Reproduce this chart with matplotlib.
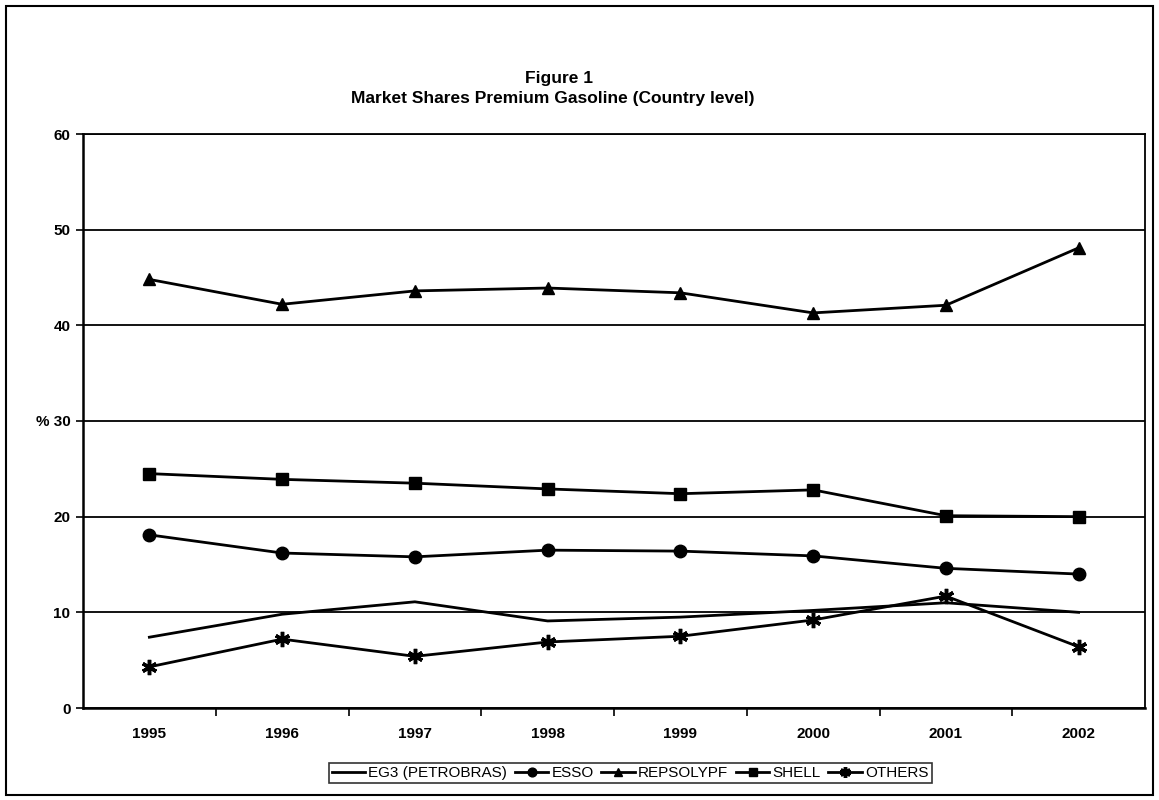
import matplotlib
matplotlib.use("Agg")
import matplotlib.pyplot as plt
from matplotlib.patches import Rectangle

years = ["1995", "1996", "1997", "1998", "1999", "2000", "2001", "2002"]
eg3 = [7.4, 9.8, 11.1, 9.1, 9.5, 10.2, 11.0, 10.0]
esso = [18.1, 16.2, 15.8, 16.5, 16.4, 15.9, 14.6, 14.0]
repsol = [44.8, 42.2, 43.6, 43.9, 43.4, 41.3, 42.1, 48.1]
shell = [24.5, 23.9, 23.5, 22.9, 22.4, 22.8, 20.1, 20.0]
others = [4.3, 7.2, 5.4, 6.9, 7.5, 9.2, 11.7, 6.4]
yticks = [0, 10, 20, 30, 40, 50, 60]
ytick_labels = ["0", "10", "20", "% 30", "40", "50", "60"]

plt.rcParams['font.family'] = ['Liberation Sans', 'DejaVu Sans']

fig = plt.figure(figsize=(11.59, 8.0), dpi=100)
ax = fig.add_axes([83/1159, 1-708/800, (1145-83)/1159, (708-134)/800])

x = list(range(len(years)))
lw = 2.0
ax.plot(x, eg3, color='black', lw=lw, label='EG3 (PETROBRAS)')
ax.plot(x, esso, color='black', lw=lw, marker='o', ms=9, label='ESSO')
ax.plot(x, repsol, color='black', lw=lw, marker='^', ms=9, label='REPSOLYPF')
ax.plot(x, shell, color='black', lw=lw, marker='s', ms=8, label='SHELL')
ax.plot(x, others, color='black', lw=lw, marker=(6, 2, 0), ms=11, mew=2.5, label='OTHERS')

ax.set_xlim(-0.5, len(years) - 0.5)
ax.set_ylim(0, 60)
ax.set_yticks(yticks)
ax.set_yticklabels(ytick_labels, fontweight='bold', fontsize=11)
ax.set_xticks(x)
ax.set_xticklabels(years, fontweight='bold', fontsize=11)
ax.tick_params(axis='x', length=0, pad=14)
ax.set_xticks([i + 0.5 for i in range(len(years) - 1)], minor=True)
ax.tick_params(axis='x', which='minor', length=6, width=1.2, direction='out')
ax.tick_params(axis='y', length=5, width=1.2, direction='out', pad=4)
ax.yaxis.grid(True, color='black', lw=1.3)
ax.set_axisbelow(True)
for s in ax.spines.values():
    s.set_linewidth(1.3)
ax.spines['left'].set_linewidth(1.8)
ax.spines['bottom'].set_linewidth(1.8)

fig.text(0.482, 1-78/800, "Figure 1", ha='center', va='center', fontweight='bold', fontsize=12.5)
fig.text(0.477, 1-98/800, "Market Shares Premium Gasoline (Country level)", ha='center', va='center',
         fontweight='bold', fontsize=12.5)

leg = fig.legend(loc='center', bbox_to_anchor=(630/1159, 1-773/800), ncol=5, frameon=True,
                 fancybox=False, edgecolor='black', fontsize=11, handlelength=2.2,
                 handletextpad=0.2, columnspacing=0.5, borderpad=0.2, markerscale=0.7)
leg.get_frame().set_linewidth(1.2)

fig.patches.append(Rectangle((6/1159, 5/800), 1147/1159, 789/800, transform=fig.transFigure,
                             fill=False, edgecolor='black', lw=1.5))

fig.savefig("out.png", dpi=100, facecolor='white')
